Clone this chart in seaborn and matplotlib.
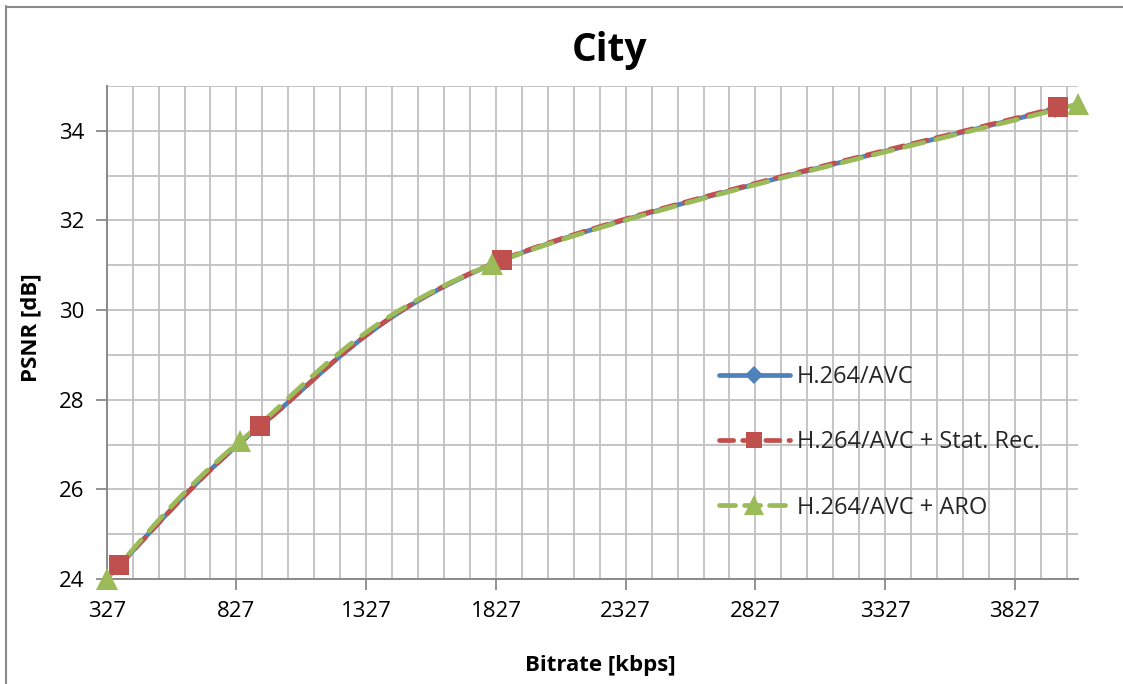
import numpy as np
import pandas as pd
import matplotlib
matplotlib.use("Agg")
import matplotlib.pyplot as plt
from matplotlib.lines import Line2D
from matplotlib.ticker import MultipleLocator, FixedLocator
import seaborn as sns

# Rate-distortion points (bitrate in kbps, PSNR in dB)
bitrate_avc = [372, 914, 1846, 3980]
psnr_avc = [24.29, 27.39, 31.10, 34.49]

bitrate_stat = [376, 918, 1849, 3994]
psnr_stat = [24.31, 27.41, 31.12, 34.53]

bitrate_aro = [327, 841, 1811, 4070]
psnr_aro = [24.00, 27.07, 31.02, 34.60]

series_names = ["H.264/AVC", "H.264/AVC + Stat. Rec.", "H.264/AVC + ARO"]
x_ticks = [327, 827, 1327, 1827, 2327, 2827, 3327, 3827]
y_ticks = [24, 26, 28, 30, 32, 34]

X_MIN, X_MAX = 327, 4070
Y_MIN, Y_MAX = 24, 35

sns.set_theme(style="white")
plt.rcParams["font.family"] = ["Open Sans", "DejaVu Sans"]

W, H, DPI = 1123, 684, 100
fig = plt.figure(figsize=(W / DPI, H / DPI), dpi=DPI)
L, R, T, B = 106.7, 1078, 86, 579
ax = fig.add_axes([L / W, 1 - B / H, (R - L) / W, (B - T) / H])

# pixel scale factors so the curve smoothing follows screen geometry
sx = (R - L) / (X_MAX - X_MIN)
sy = (B - T) / (Y_MAX - Y_MIN)


def smooth_path(xs, ys, steps=40):
    """Bezier smoothing through the points (spreadsheet-style smoothed line)."""
    p = np.column_stack([np.asarray(xs, float) * sx, np.asarray(ys, float) * sy])
    n = len(p)
    out = [p[0]]
    for i in range(n - 1):
        p0 = p[i - 1] if i > 0 else p[i]
        p1, p2 = p[i], p[i + 1]
        p3 = p[i + 2] if i + 2 < n else p[i + 1]
        c1 = p1 + (p2 - p0) / 6.0
        c2 = p2 - (p3 - p1) / 6.0
        t = np.linspace(0, 1, steps)[1:, None]
        seg = ((1 - t) ** 3) * p1 + 3 * ((1 - t) ** 2) * t * c1 + 3 * (1 - t) * t ** 2 * c2 + t ** 3 * p2
        out.extend(seg)
    out = np.array(out)
    return pd.DataFrame({"x": out[:, 0] / sx, "y": out[:, 1] / sy})


blue, red, green = "#4F81BD", "#C0504D", "#9BBB59"
styles = [
    dict(color=blue, dashes=None, ldashes=None, marker="D", ms=9, lms=9),
    dict(color=red, dashes=(3.0, 2.0), ldashes=(3.0, 1.9), marker="s", ms=14, lms=12),
    dict(color=green, dashes=(4.2, 2.6), ldashes=(3.4, 1.9), marker="^", ms=16, lms=14),
]
data = [(bitrate_avc, psnr_avc), (bitrate_stat, psnr_stat), (bitrate_aro, psnr_aro)]

LW = 3.4
for (xs, ys), st in zip(data, styles):
    curve = smooth_path(xs, ys)
    sns.lineplot(data=curve, x="x", y="y", sort=False, estimator=None, ax=ax,
                 color=st["color"], linewidth=LW, solid_capstyle="round",
                 dash_capstyle="round", zorder=3)
    if st["dashes"] is not None:
        ax.lines[-1].set_dashes(st["dashes"])
for (xs, ys), st in zip(data, styles):
    ax.plot(xs, ys, linestyle="none", marker=st["marker"], markersize=st["ms"],
            color=st["color"], markeredgewidth=0, clip_on=False, zorder=4)

ax.set_xlim(X_MIN, X_MAX)
ax.set_ylim(Y_MIN, Y_MAX)
ax.xaxis.set_major_locator(FixedLocator(x_ticks))
ax.xaxis.set_minor_locator(FixedLocator(list(range(X_MIN, X_MAX + 1, 100))))
ax.yaxis.set_major_locator(FixedLocator(y_ticks))
ax.yaxis.set_minor_locator(MultipleLocator(1))
ax.set_xticklabels([str(v) for v in x_ticks])
ax.set_yticklabels([str(v) for v in y_ticks])

ax.grid(which="both", color="#c0c0c0", linewidth=1.3)
ax.set_axisbelow(True)
for s in ["top", "right"]:
    ax.spines[s].set_visible(False)
for s in ["left", "bottom"]:
    ax.spines[s].set_color("#8a8a8a")
    ax.spines[s].set_linewidth(1.4)
ax.tick_params(which="major", direction="out", length=8, width=1.3, color="#8a8a8a",
               labelsize=16, labelcolor="black", pad=8, left=True, bottom=True)
ax.tick_params(which="minor", length=0)

ax.set_xlabel("Bitrate [kbps]", fontsize=16, fontweight="bold", color="black", va="center")
ax.set_ylabel("PSNR [dB]", fontsize=16, fontweight="bold", color="black", va="center")
ax.xaxis.set_label_coords((600 - L) / (R - L), (B - 666) / (B - T))
ax.yaxis.set_label_coords((31 - L) / (R - L), (B - 328) / (B - T))

fig.text(609 / W, 1 - 50 / H, "City", fontsize=28, fontweight="bold",
         ha="center", va="center", color="black")

handles = []
for st, name in zip(styles, series_names):
    h = Line2D([], [], color=st["color"], linewidth=LW, marker=st["marker"],
               markersize=st["lms"], markeredgewidth=0, solid_capstyle="round",
               dash_capstyle="round", label=name)
    if st["ldashes"] is not None:
        h.set_dashes(st["ldashes"])
    handles.append(h)
fig.legend(handles=handles, loc="upper left", bbox_to_anchor=(719 / W, 1 - 365 / H),
           frameon=False, fontsize=17, handlelength=3.0, handletextpad=0.3,
           labelspacing=1.75, borderpad=0, borderaxespad=0)

# chart frame
fig.add_artist(Line2D([5.5 / W, 5.5 / W], [0, 1 - 6 / H], color="#8a8a8a", linewidth=1.5,
                      transform=fig.transFigure))
fig.add_artist(Line2D([5.5 / W, 1], [1 - 6.5 / H, 1 - 6.5 / H], color="#8a8a8a", linewidth=1.5,
                      transform=fig.transFigure))

fig.savefig("out.png", dpi=DPI)
